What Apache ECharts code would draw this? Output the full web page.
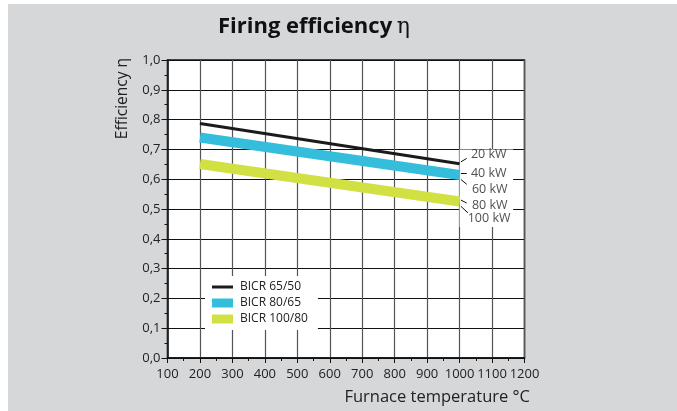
<!DOCTYPE html>
<html><head><meta charset="utf-8">
<script src="https://cdn.jsdelivr.net/npm/echarts@6/dist/echarts.min.js"></script>
<style>
html,body{margin:0;padding:0;background:#fff;width:677px;height:411px;overflow:hidden}
#c{position:absolute;left:8px;top:4px;width:669px;height:407px}
</style></head><body><div id="c"></div>
<script>
// Data
const seriesNames = ['BICR 65/50', 'BICR 80/65', 'BICR 100/80'];
const tempPoints = [200, 1000];
const effBICR65 = [0.787, 0.652];
const effBICR80 = [0.740, 0.614];
const effBICR100 = [0.651, 0.525];
const powerLabels = ['20 kW', '40 kW', '60 kW', '80 kW', '100 kW'];
const powerLabelX = [1035, 1035, 1038, 1038, 1025];
const powerLabelY = [0.683, 0.620, 0.567, 0.513, 0.467];
const leaderStart = [[1004, 0.658], [1004, 0.621], [1004, 0.599], [1004, 0.530], [1004, 0.509]];
const leaderEnd = [[1022, 0.670], [1022, 0.621], [1022, 0.583], [1022, 0.520], [1026, 0.487]];
const xTicks = [100, 200, 300, 400, 500, 600, 700, 800, 900, 1000, 1100, 1200];
const yTicks = ['0,0', '0,1', '0,2', '0,3', '0,4', '0,5', '0,6', '0,7', '0,8', '0,9', '1,0'];

const colors = ['#1b1b1b', '#35bedb', '#d1e043'];
const font = 'Open Sans';

const pair = (ys) => tempPoints.map((x, i) => [x, ys[i]]);

const chart = echarts.init(document.getElementById('c'));
chart.setOption({
  backgroundColor: '#d6d7d9',
  animation: false,
  textStyle: { fontFamily: font, color: '#222' },
  title: {
    text: '{b|Firing efficiency} {e|η}',
    left: 205, top: 7,
    textStyle: {
      fontWeight: 'normal',
      rich: {
        b: { fontFamily: font, fontWeight: 'bold', fontSize: 22, color: '#111' },
        e: { fontFamily: 'DejaVu Serif', fontWeight: 'normal', fontSize: 22, color: '#111' }
      }
    }
  },
  grid: { left: 159.5, right: 152.5, top: 56, bottom: 53, show: true, backgroundColor: '#fff', borderColor: '#111', borderWidth: 1.5, containLabel: false },
  legend: {
    orient: 'vertical', left: 197, top: 272,
    backgroundColor: '#fff', padding: [5, 10, 5, 7],
    itemWidth: 21, itemHeight: 9, itemGap: 4,
    textStyle: { fontFamily: font, fontSize: 12, color: '#222', padding: [0, 0, 0, 2] },
    data: [
      { name: seriesNames[0], icon: 'path://M0,0 M0,3 L21,3 L21,6 L0,6 Z M21,9', itemStyle: { color: colors[0], borderWidth: 0 } },
      { name: seriesNames[1], icon: 'rect', itemStyle: { color: colors[1], borderWidth: 0 } },
      { name: seriesNames[2], icon: 'rect', itemStyle: { color: colors[2], borderWidth: 0 } }
    ]
  },
  xAxis: {
    type: 'value', min: 100, max: 1200, interval: 100,
    axisLine: { show: true, lineStyle: { color: '#111', width: 1.5 } },
    axisTick: { show: true, inside: false, length: 5, lineStyle: { color: '#111' } },
    minorTick: { show: true, splitNumber: 2, length: 3, lineStyle: { color: '#111' } },
    splitLine: { show: true, lineStyle: { color: '#555', width: 1.2 } },
    axisLabel: { fontSize: 13, color: '#222', margin: 10, formatter: (v) => { const i = xTicks.indexOf(Math.round(v)); return i >= 0 ? String(xTicks[i]) : ''; } }
  },
  yAxis: {
    type: 'value', min: 0, max: 1, interval: 0.1,
    axisLine: { show: true, lineStyle: { color: '#111', width: 1.5 } },
    axisTick: { show: true, inside: false, length: 6, lineStyle: { color: '#111' } },
    minorTick: { show: true, splitNumber: 2, length: 3, lineStyle: { color: '#111' } },
    splitLine: { show: true, lineStyle: { color: '#111', width: 1.2 } },
    axisLabel: { fontSize: 13, color: '#222', margin: 7, formatter: (v) => yTicks[Math.round(v * 10)] }
  },
  graphic: [
    { type: 'text', x: 115, y: 54, rotation: Math.PI / 2, style: { text: 'Efficiency η', fontFamily: font, fontSize: 15.5, fill: '#222', textAlign: 'right', textVerticalAlign: 'middle' } },
    { type: 'text', x: 522, y: 393, style: { text: 'Furnace temperature °C', fontFamily: font, fontSize: 16.5, fill: '#222', textAlign: 'right', textVerticalAlign: 'middle' } }
  ],
  series: [
    {
      name: 'labels', type: 'scatter', symbolSize: 0, silent: true, z: 1,
      data: powerLabels.map((t, i) => ({ value: [powerLabelX[i], powerLabelY[i]], label: { formatter: t } })),
      label: { show: true, position: 'right', distance: 0, fontFamily: font, fontSize: 12.5, color: '#222' },
      markArea: { silent: true, itemStyle: { color: '#fff' }, data: [[{ coord: [1000, 0.70] }, { coord: [1165, 0.44] }]] },
      markLine: { silent: true, symbol: 'none', label: { show: false }, lineStyle: { color: '#111', width: 1, type: 'solid' },
        data: leaderStart.map((s, i) => [{ coord: s }, { coord: leaderEnd[i] }]) }
    },
    { name: seriesNames[0], type: 'line', data: pair(effBICR65), symbol: 'none', color: colors[0], lineStyle: { width: 3, color: colors[0], cap: 'butt' }, z: 3 },
    { name: seriesNames[1], type: 'line', data: pair(effBICR80), symbol: 'none', color: colors[1], lineStyle: { width: 10, color: colors[1], cap: 'butt' }, z: 2 },
    { name: seriesNames[2], type: 'line', data: pair(effBICR100), symbol: 'none', color: colors[2], lineStyle: { width: 10, color: colors[2], cap: 'butt' }, z: 2 }
  ]
});
</script></body></html>
